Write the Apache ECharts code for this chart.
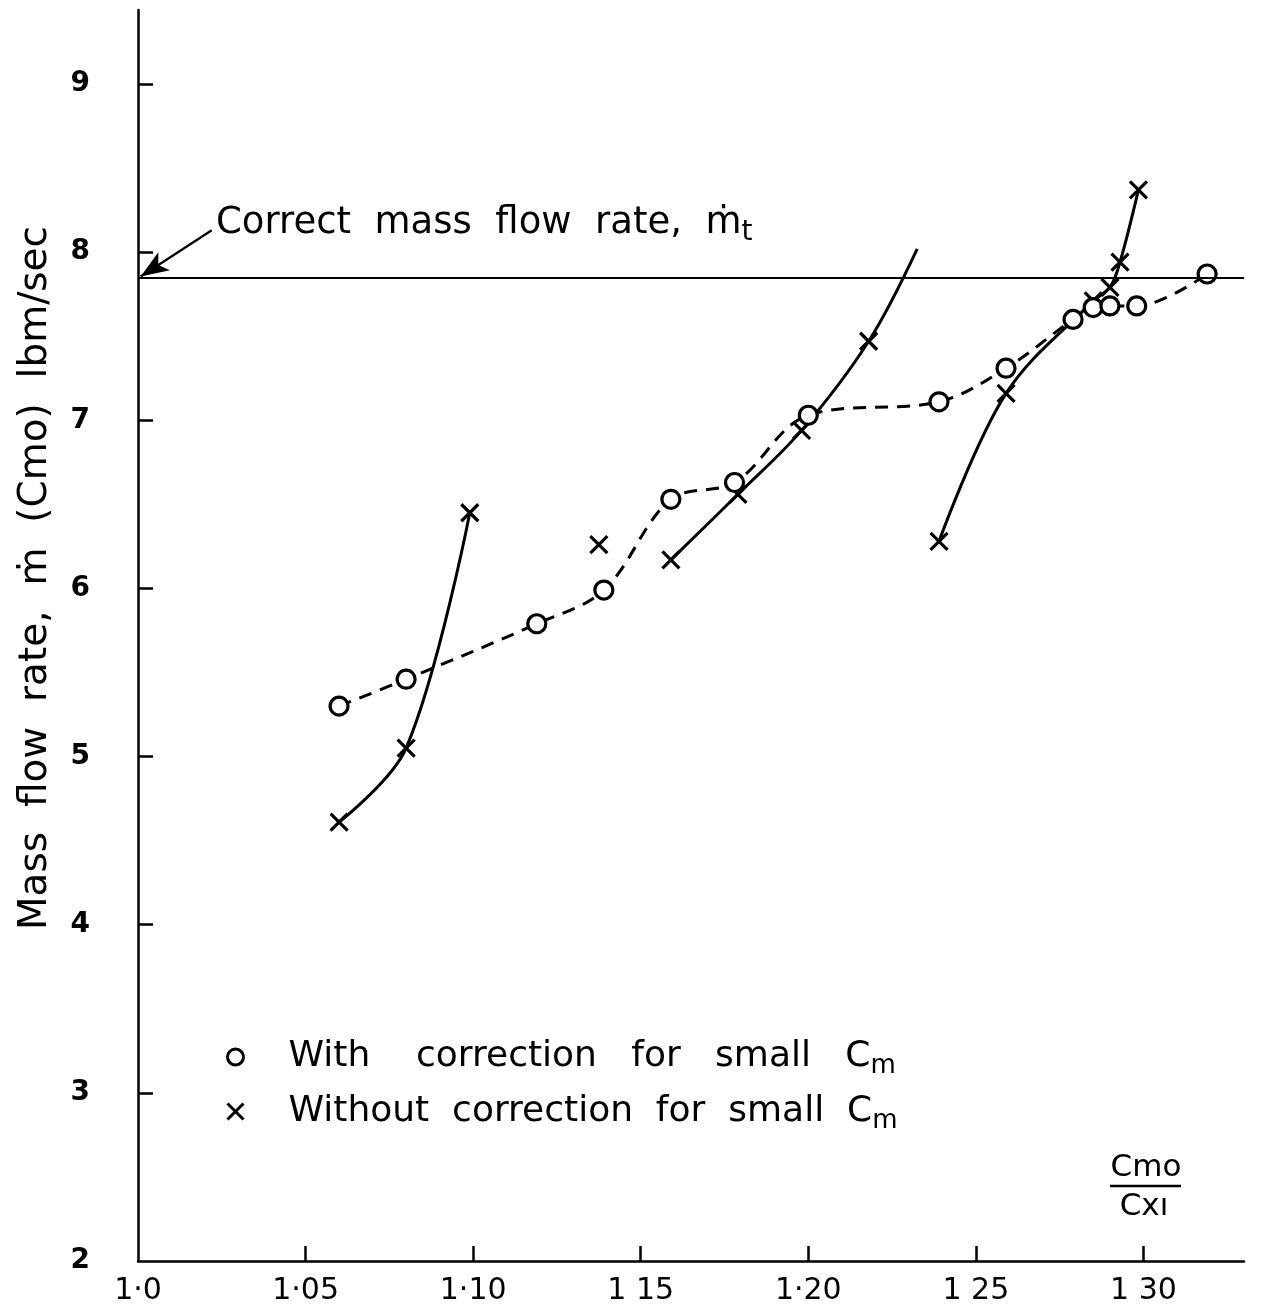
<!DOCTYPE html>
<html>
<head>
<meta charset="utf-8">
<script src="https://cdn.jsdelivr.net/npm/echarts@6/dist/echarts.min.js"></script>
<style>
html,body{margin:0;padding:0;background:#fff;}
#chart{width:1270px;height:1315px;}
</style>
</head>
<body>
<div id="chart"></div>
<script>
// ---- data ----
const xTickValues = [1.0, 1.05, 1.10, 1.15, 1.20, 1.25, 1.30];
const xTickLabels = ['1·0', '1·05', '1·10', '1 15', '1·20', '1 25', '1 30'];
const yLabelValues = [2, 3, 4, 5, 6, 7, 8, 9];
const yTickValues = [3, 4, 5, 6, 7, 8, 9];

// "With correction for small Cm" (circles, dashed curve)
const withCorrection = [
  [1.060, 5.30], [1.080, 5.46], [1.119, 5.79], [1.139, 5.99],
  [1.159, 6.53], [1.178, 6.63], [1.200, 7.03], [1.239, 7.11],
  [1.259, 7.31], [1.279, 7.60], [1.285, 7.67], [1.290, 7.68],
  [1.298, 7.68], [1.319, 7.87]
];

// "Without correction for small Cm" (crosses, solid curves in segments)
const withoutSegA = [[1.060, 4.61], [1.080, 5.05], [1.099, 6.45]];
const withoutSegB = [[1.1375, 6.26]];
const withoutSegC = [[1.159, 6.17], [1.179, 6.56], [1.198, 6.94], [1.218, 7.47]];
const curveEndC = [1.2325, 8.02];   // curve continues beyond last cross, no marker
const withoutSegD = [[1.239, 6.28], [1.259, 7.16], [1.285, 7.71], [1.290, 7.79], [1.293, 7.94], [1.2985, 8.37]];

const correctFlow = 7.85;
const arrowStart = [1.022, 8.13];

const seriesNames = ['With    correction   for   small   C', 'Without  correction  for  small  C'];

// ---- chart ----
const FONT = 'DejaVu Sans';
const chart = echarts.init(document.getElementById('chart'), null, {renderer: 'canvas'});

const crossPath = 'path://M0,0L10,10M10,0L0,10';

function crossSeries(data, extra) {
  return Object.assign({
    name: seriesNames[1],
    type: 'line',
    data: data,
    smooth: 0.35,
    symbol: crossPath,
    symbolSize: 17,
    showAllSymbol: true,
    lineStyle: {color: '#000', width: 3, type: 'solid'},
    itemStyle: {color: 'none', borderColor: '#000', borderWidth: 3.2},
    emphasis: {disabled: true},
    z: 3
  }, extra || {});
}

const segCData = withoutSegC.map(p => ({value: p})).concat([{value: curveEndC, symbol: 'none'}]);

const option = {
  backgroundColor: '#fff',
  animation: false,
  grid: {left: 138, right: 26, top: 10, bottom: 54, containLabel: false},
  xAxis: {
    type: 'value',
    min: 1.0,
    max: 1.33,
    interval: 0.05,
    axisLine: {show: true, onZero: false, lineStyle: {color: '#000', width: 2.5}},
    axisTick: {show: true, inside: true, length: 15, lineStyle: {color: '#000', width: 2.5},
               customValues: xTickValues.slice(1)},
    axisLabel: {
      customValues: xTickValues,
      formatter: function (v) {
        for (let i = 0; i < xTickValues.length; i++) {
          if (Math.abs(v - xTickValues[i]) < 1e-6) return xTickLabels[i];
        }
        return '';
      },
      color: '#000', fontFamily: FONT, fontSize: 30, margin: 15
    },
    splitLine: {show: false}
  },
  yAxis: {
    type: 'value',
    min: 2,
    max: 9.44,
    interval: 1,
    axisLine: {show: true, onZero: false, lineStyle: {color: '#000', width: 2.5}},
    axisTick: {show: true, inside: true, length: 15, lineStyle: {color: '#000', width: 2.5},
               customValues: yTickValues},
    axisLabel: {
      customValues: yLabelValues,
      color: '#000', fontFamily: FONT, fontSize: 28, fontWeight: 'bold', margin: 48
    },
    splitLine: {show: false}
  },
  legend: {
    show: true,
    orient: 'vertical',
    left: 220,
    top: 1034,
    itemGap: 14,
    itemWidth: 16,
    itemHeight: 16,
    data: [
      {name: seriesNames[0], icon: 'circle', itemStyle: {color: '#fff', borderColor: '#000', borderWidth: 3}},
      {name: seriesNames[1], icon: crossPath, itemStyle: {color: 'none', borderColor: '#000', borderWidth: 3}}
    ],
    formatter: function (name) { return name + '{s|m}'; },
    textStyle: {
      color: '#000', fontFamily: FONT, fontSize: 36, padding: [0, 0, 0, 40],
      rich: {s: {fontFamily: FONT, fontSize: 26, color: '#000', padding: [19, 0, 0, 0]}}
    },
    selectedMode: false
  },
  series: [
    {
      name: seriesNames[0],
      type: 'line',
      data: withCorrection,
      smooth: 0.35,
      symbol: 'circle',
      symbolSize: 18,
      showAllSymbol: true,
      lineStyle: {color: '#000', width: 3, type: [13, 9]},
      itemStyle: {color: '#fff', borderColor: '#000', borderWidth: 3.2},
      emphasis: {disabled: true},
      z: 4,
      markLine: {
        silent: true,
        animation: false,
        label: {show: false},
        data: [
          [{coord: [1.0, correctFlow], symbol: 'none'}, {coord: [1.33, correctFlow], symbol: 'none'}],
          [{coord: arrowStart, symbol: 'none'}, {coord: [1.0008, correctFlow + 0.005], symbol: 'arrow', symbolSize: [16, 28]}]
        ],
        lineStyle: {color: '#000', width: 2.2, type: 'solid'},
        itemStyle: {color: '#000'}
      }
    },
    crossSeries(withoutSegA),
    crossSeries(withoutSegB),
    crossSeries(segCData),
    crossSeries(withoutSegD)
  ],
  graphic: [
    {
      type: 'text',
      x: 216, y: 199,
      style: {
        text: 'Correct  mass  flow  rate,  ṁ{s|t}',
        fill: '#000',
        font: '37px "DejaVu Sans"',
        rich: {s: {fontFamily: FONT, fontSize: 28, fill: '#000', padding: [20, 0, 0, 0]}}
      }
    },
    {
      type: 'text',
      x: 36, y: 578,
      rotation: Math.PI / 2,
      style: {
        text: 'Mass  flow  rate,  ṁ  (Cmo)  lbm/sec',
        fill: '#000',
        font: '39px "DejaVu Sans"',
        align: 'center',
        verticalAlign: 'middle'
      }
    },
    {
      type: 'text',
      x: 1146, y: 1168,
      style: {text: 'Cmo', fill: '#000', font: '31px "DejaVu Sans"', align: 'center', verticalAlign: 'middle'}
    },
    {
      type: 'line',
      shape: {x1: 1110, y1: 1186, x2: 1181, y2: 1186},
      style: {stroke: '#000', lineWidth: 2.5}
    },
    {
      type: 'text',
      x: 1144, y: 1207,
      style: {text: 'Cxı', fill: '#000', font: '31px "DejaVu Sans"', align: 'center', verticalAlign: 'middle'}
    }
  ]
};

chart.setOption(option);
</script>
</body>
</html>
